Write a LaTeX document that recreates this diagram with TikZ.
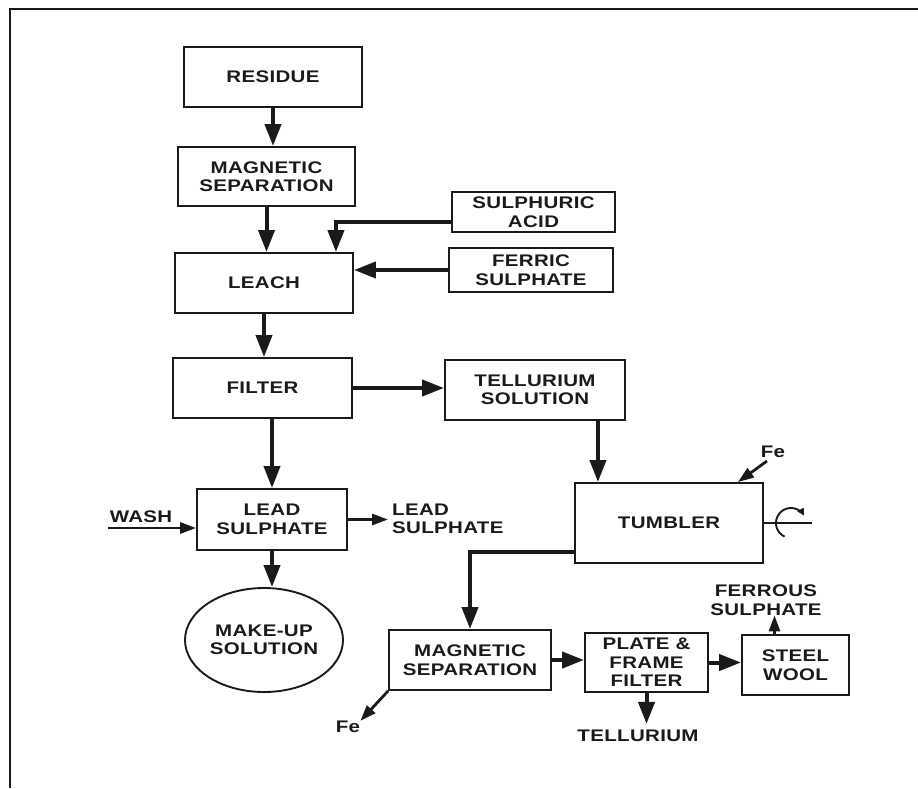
\documentclass[tikz,border=0pt]{standalone}
\usepackage{fontspec}
\usepackage{tikz}
\usetikzlibrary{calc,positioning,arrows.meta,shapes.geometric}
\newfontfamily\flowfont{Liberation Sans}[FakeStretch=1.22,LetterSpace=2.0]
\definecolor{flowInk}{HTML}{1A1A1A}

\begin{document}
\begin{tikzpicture}[
  x=1pt,y=-1pt,
  unit/.style={rectangle,draw=flowInk,line width=1.9pt,inner sep=0pt,align=center,font=\flowfont\bfseries\fontsize{16.8pt}{18.5pt}\selectfont,text=flowInk},
  tank/.style={ellipse,draw=flowInk,line width=1.9pt,inner sep=0pt,align=center,font=\flowfont\bfseries\fontsize{16.8pt}{18.5pt}\selectfont,text=flowInk},
  tag/.style={inner sep=0pt,align=center,font=\flowfont\bfseries\fontsize{16.8pt}{18.5pt}\selectfont,text=flowInk},
  arr/.style={-{Triangle[length=22pt,width=16pt]},line width=4pt,flowInk},
  thin/.style={-{Triangle[length=16pt,width=11pt]},line width=2.8pt,flowInk}
]
  \useasboundingbox (0,0) rectangle (918,788);
  \draw[line width=2.2pt,flowInk] (918,9) -- (10,9) -- (10,788);
  % main line
  \node[unit,minimum width=178pt,minimum height=60pt] (residue) at (273,77) {RESIDUE};
  \node[unit,minimum width=177pt,minimum height=59pt] (magsep) at (266.5,176.5) {MAGNETIC\\SEPARATION};
  \node[unit,minimum width=178pt,minimum height=60pt] (leach) at (264,283) {LEACH};
  \node[unit,minimum width=179pt,minimum height=60pt] (filter) at (262.5,388) {FILTER};
  \node[unit,minimum width=150pt,minimum height=61pt] (lead) at (272,519.5) {LEAD\\SULPHATE};
  \node[tank,minimum width=158pt,minimum height=104pt] (makeup) at (264,640) {MAKE-UP\\SOLUTION};
  % reagents and tellurium side
  \node[unit,minimum width=163pt,minimum height=40pt] (sulph) at (533.5,212) {SULPHURIC\\ACID};
  \node[unit,minimum width=164pt,minimum height=44pt] (ferric) at (531,270) {FERRIC\\SULPHATE};
  \node[unit,minimum width=180pt,minimum height=60pt] (tellsol) at (535,390) {TELLURIUM\\SOLUTION};
  \node[unit,minimum width=188pt,minimum height=80pt] (tumbler) at (669,523) {TUMBLER};
  \node[unit,minimum width=162pt,minimum height=60pt] (magsep2) at (470,660) {MAGNETIC\\SEPARATION};
  \node[unit,minimum width=123pt,minimum height=59pt] (plate) at (646.5,662.5) {PLATE \&\\FRAME\\FILTER};
  \node[unit,minimum width=107pt,minimum height=60pt] (steel) at (795.5,665) {STEEL\\WOOL};
  % free texts
  \node[tag] (wash) at (141,517) {WASH};
  \node[tag,anchor=west,align=left] (leadout) at (392,519) {LEAD\\SULPHATE};
  \node[tag] (fetop) at (773,452) {Fe};
  \node[tag] (ferrous) at (766,600) {FERROUS\\SULPHATE};
  \node[tag] (tellur) at (638,736) {TELLURIUM};
  \node[tag] (feout) at (348,727) {Fe};
  \coordinate (washin) at (108,528);
  \coordinate (fein) at (767,461);
  \coordinate (drop) at ([xshift=-28pt]tellsol.south east);
  \coordinate (vent) at ([xshift=-21pt]steel.north);
  \coordinate (shaft) at (812,523);
  % flows
  \draw[arr] (residue.south) -- (residue.south |- magsep.north);
  \draw[arr] (magsep.south) -- (magsep.south |- leach.north);
  \draw[arr] ([yshift=-10pt]sulph.west) -| ([xshift=-18pt]leach.north east);
  \draw[arr] (ferric.west) -- (ferric.west -| leach.east);
  \draw[arr] (leach.south) -- (leach.south |- filter.north);
  \draw[arr] (lead.north |- filter.south) -- (lead.north);
  \draw[arr] (filter.east) -- (filter.east -| tellsol.west);
  \draw[thin] (washin) -- (washin -| lead.west);
  \draw[thin,shorten >=4pt] (lead.east) -- (lead.east -| leadout.west);
  \draw[arr] (lead.south) -- (lead.south |- makeup.north);
  \draw[arr] (drop) -- (drop |- tumbler.north);
  \draw[thin] (fein) -- ([xshift=-26pt]tumbler.north east);
  \draw[line width=2.6pt,flowInk] (tumbler.east) -- (shaft);
  \draw[-{Triangle[length=7pt,width=7pt]},line width=1.9pt,flowInk] ([xshift=27pt]tumbler.east) ++(115:15) arc[start angle=115,end angle=330,radius=15];
  \draw[arr] ([yshift=-29pt]tumbler.west) -| (magsep2.north);
  \draw[arr] (magsep2.east) -- (magsep2.east -| plate.west);
  \draw[arr] (plate.east) -- (plate.east -| steel.west);
  \draw[thin] (vent) -- (vent |- ferrous.south);
  \draw[arr,shorten >=6pt] (plate.south) -- (plate.south |- tellur.north);
  \draw[thin] (magsep2.south west) -- (feout.north east);
\end{tikzpicture}
\end{document}
